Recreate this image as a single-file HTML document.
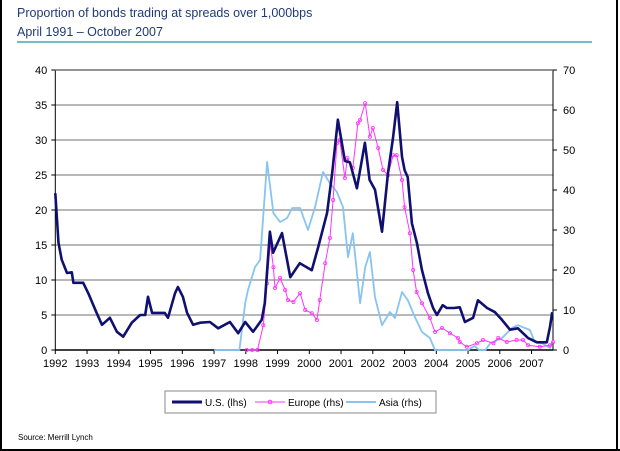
<!DOCTYPE html>
<html><head><meta charset="utf-8">
<style>
body{margin:0;background:#fff;}
svg{display:block;font-family:"Liberation Sans",sans-serif;}
</style></head>
<body>
<svg id="chart" width="620" height="451" viewBox="0 0 620 451">
<rect x="0" y="0" width="620" height="451" fill="#fff"/>
<line x1="1" y1="0" x2="1" y2="451" stroke="#000" stroke-width="2"/>
<line x1="617" y1="0" x2="617" y2="451" stroke="#000" stroke-width="2"/>
<line x1="0" y1="450" x2="620" y2="450" stroke="#000" stroke-width="2"/>
<text x="17" y="17" font-size="12.5" fill="#1f3a7a">Proportion of bonds trading at spreads over 1,000bps</text>
<text x="17" y="36" font-size="12.5" fill="#1f3a7a">April 1991 – October 2007</text>
<line x1="17" y1="42" x2="592" y2="42" stroke="#3aa8b8" stroke-width="1.5"/>
<g id="grid"></g><g id="axes"></g><g id="series"></g>
<g>
<rect x="165" y="391" width="271" height="22" fill="#fff" stroke="#888"/>
<line x1="172" y1="402" x2="202" y2="402" stroke="#101070" stroke-width="3"/>
<text x="205" y="406" font-size="10" fill="#000">U.S. (lhs)</text>
<line x1="255" y1="402" x2="285" y2="402" stroke="#ff33ff" stroke-width="1"/>
<circle cx="270" cy="402" r="1.8" fill="none" stroke="#ff33ff"/>
<text x="288" y="406" font-size="10" fill="#000">Europe (rhs)</text>
<line x1="346" y1="402" x2="376" y2="402" stroke="#88c4f0" stroke-width="2"/>
<text x="379" y="406" font-size="10" fill="#000">Asia (rhs)</text>
</g>
<text x="18" y="440" font-size="8" fill="#000">Source: Merrill Lynch</text>
</svg>
<script>
const xTicks=[1992,1993,1994,1995,1996,1997,1998,1999,2000,2001,2002,2003,2004,2005,2006,2007];
const leftTicks=[0,5,10,15,20,25,30,35,40];
const rightTicks=[0,10,20,30,40,50,60,70];
const usX=[1992,1992.1,1992.2,1992.37,1992.52,1992.57,1992.88,1993.04,1993.3,1993.47,1993.72,1993.94,1994.14,1994.41,1994.67,1994.83,1994.92,1995.05,1995.45,1995.55,1995.77,1995.86,1996.02,1996.15,1996.34,1996.56,1996.87,1997.13,1997.5,1997.76,1997.98,1998.23,1998.5,1998.6,1998.76,1998.86,1999.14,1999.4,1999.7,2000.08,2000.28,2000.56,2000.72,2000.9,2001.12,2001.28,2001.5,2001.75,2001.9,2002.07,2002.29,2002.48,2002.64,2002.77,2002.92,2003.0,2003.1,2003.23,2003.39,2003.55,2003.74,2003.9,2004.02,2004.2,2004.33,2004.55,2004.74,2004.9,2005.16,2005.31,2005.6,2005.85,2006.07,2006.32,2006.57,2006.89,2007.17,2007.48,2007.58,2007.65];
const usY=[22.4,15.3,12.9,11,11.1,9.6,9.6,8.1,5.3,3.6,4.6,2.6,1.9,3.9,5,5,7.6,5.3,5.3,4.6,8.1,9,7.6,5.3,3.6,3.9,4,3.1,4,2.4,4,2.6,4.3,6.7,16.9,13.9,16.7,10.4,12.4,11.4,14.7,19.6,25.3,32.9,27,26.8,23.1,29.6,24.3,22.9,16.9,25.3,30.4,35.4,27.6,25.7,24.7,18.1,15.3,11.4,8.1,6,5,6.4,6,6,6.1,4,4.6,7.1,6,5.4,4.3,2.9,3.1,1.7,1.1,1.1,3.3,5.4];
const euX=[1998.03,1998.2,1998.37,1998.55,1998.67,1998.77,1998.87,1998.92,1999.08,1999.24,1999.33,1999.5,1999.71,1999.87,2000.08,2000.24,2000.33,2000.5,2000.65,2000.75,2000.87,2000.96,2001.12,2001.2,2001.37,2001.53,2001.6,2001.76,2001.91,2002.0,2002.17,2002.32,2002.48,2002.64,2002.75,2002.92,2003.0,2003.17,2003.27,2003.38,2003.55,2003.8,2003.96,2004.18,2004.43,2004.68,2004.74,2004.96,2005.28,2005.47,2005.8,2005.95,2006.22,2006.53,2006.73,2006.89,2007.26,2007.58,2007.68];
const euY=[0,0,0,6.2,16.7,26.7,20.7,15.5,18,15,12.5,12,14.2,10,9.2,7.5,12.5,21.7,28,37.5,51.7,52.5,43,48,45.5,56.7,57.5,61.7,53.3,55.5,50.5,45,43.7,48.7,48.7,42.5,35.7,29.2,20,14.5,11.7,8,4.5,5.5,4.2,3,2,0.8,1.7,2.5,1.7,3,2,2.5,2.5,1.2,0.8,1.2,2];
const asX=[1997.0,1997.8,1997.98,1998.07,1998.29,1998.45,1998.67,1998.87,1999.08,1999.3,1999.46,1999.71,1999.96,2000.18,2000.43,2000.65,2000.87,2001.06,2001.22,2001.37,2001.6,2001.76,2001.91,2002.07,2002.29,2002.54,2002.7,2002.92,2003.1,2003.33,2003.55,2003.8,2003.96,2005.0,2005.2,2005.35,2005.55,2005.7,2006.07,2006.38,2006.57,2006.95,2007.1,2007.33,2007.58,2007.68];
const asY=[0,0,11.7,15,20.7,22.5,47,34.2,32,33,35.5,35.5,30,35.7,44.5,41.7,39.5,35.7,23.2,29.2,11.7,20.7,24.5,13.2,6.2,9.5,8,14.5,12.5,8.2,4.5,3,0,0,1,0,0,1.7,3,5.5,6.2,5,2,1.7,0.5,2.5];

const NS='http://www.w3.org/2000/svg';
const X0=55.3,PX=31.75,Y0=350;
const xs=v=>X0+(v-1992)*PX;
const yl=v=>Y0-v*7;
const yr=v=>Y0-v*4;
const L=55.3,R=553;
function mk(tag,attrs,parent){const e=document.createElementNS(NS,tag);for(const k in attrs)e.setAttribute(k,attrs[k]);parent.appendChild(e);return e;}
const grid=document.getElementById('grid'),axes=document.getElementById('axes'),ser=document.getElementById('series');
leftTicks.forEach(t=>{
  if(t>0){const g=mk('line',{x1:L,x2:R,y1:yl(t),y2:yl(t),stroke:'#a0a0a0','stroke-width':1.5},grid);
  
  }
  const tk=mk('line',{x1:L-4,x2:L,y1:yl(t),y2:yl(t),stroke:'#000'},axes);
  
  
  const tx=mk('text',{x:L-8,y:yl(t)+4,'font-size':11,'text-anchor':'end',fill:'#000'},axes);tx.textContent=t;
  
  
});
rightTicks.forEach(t=>{
  const tk=mk('line',{x1:R,x2:R+4,y1:yr(t),y2:yr(t),stroke:'#000'},axes);
  
  
  const tx=mk('text',{x:R+10,y:yr(t)+4,'font-size':11,fill:'#000'},axes);tx.textContent=t;
  
  
});
xTicks.forEach(t=>{
  const tk=mk('line',{x1:xs(t),x2:xs(t),y1:Y0,y2:Y0+4,stroke:'#000'},axes);
  
  
  const tx=mk('text',{x:xs(t),y:Y0+17,'font-size':11,'text-anchor':'middle',fill:'#000'},axes);tx.textContent=t;
  
  
});
const la=mk('line',{x1:L,x2:L,y1:70,y2:Y0,stroke:'#000'},axes);


const ra=mk('line',{x1:R,x2:R,y1:70,y2:Y0,stroke:'#000'},axes);


const ba=mk('line',{x1:L,x2:R,y1:Y0,y2:Y0,stroke:'#000','stroke-width':1.5},axes);


const tl=mk('line',{x1:L,x2:R,y1:70,y2:70,stroke:'#808080','stroke-width':1.5},axes);


function pts(X,Y,f){return X.map((x,i)=>xs(x).toFixed(1)+','+f(Y[i]).toFixed(1)).join(' ');}
const asia=mk('polyline',{points:pts(asX,asY,yr),fill:'none',stroke:'#88c4f0','stroke-width':1.8,'stroke-linejoin':'round'},ser);


const eu=mk('polyline',{points:pts(euX,euY,yr),fill:'none',stroke:'#ff33ff','stroke-width':1,'stroke-linejoin':'round'},ser);


euX.forEach((x,i)=>{
  const c=mk('circle',{cx:xs(x),cy:yr(euY[i]),r:1.6,fill:'none',stroke:'#ff33ff','stroke-width':0.8},ser);
  
  
});
const us=mk('polyline',{points:pts(usX,usY,yl),fill:'none',stroke:'#101070','stroke-width':2.6,'stroke-linejoin':'round'},ser);


</script>
</body></html>
